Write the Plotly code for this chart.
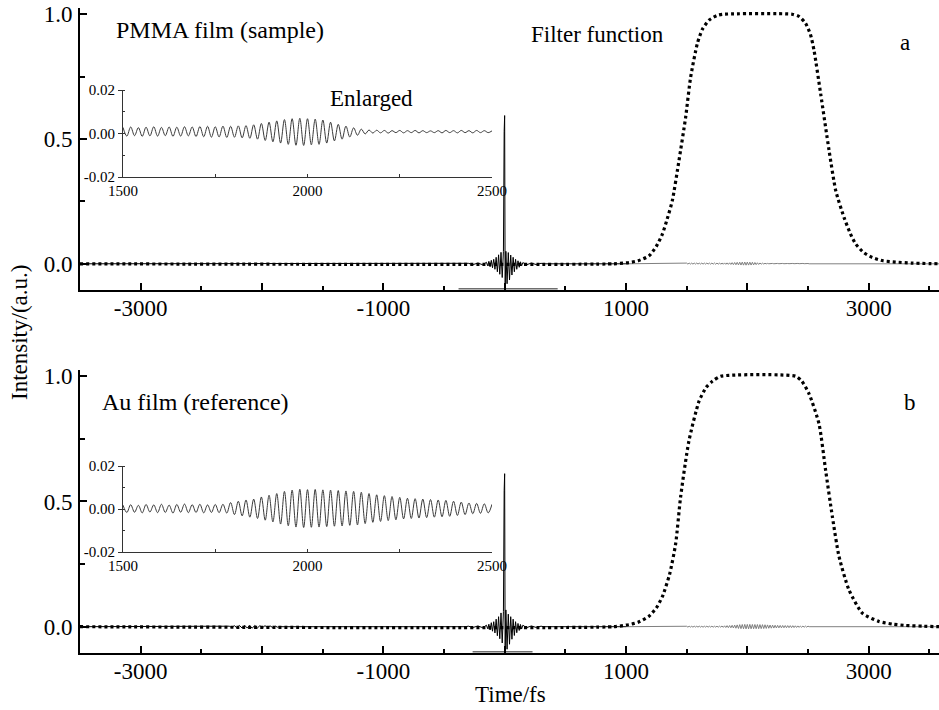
import numpy as np
import plotly.graph_objects as go

# ---------------- data ----------------
filt_a_t = [-3500, 900, 1025, 1100, 1190, 1250, 1300, 1340, 1382, 1437, 1492, 1533, 1588, 1630, 1684, 1750,
            1800, 2370, 2430, 2481, 2520, 2550, 2605, 2674, 2729, 2797, 2850, 2894, 2960, 3031, 3120, 3223,
            3350, 3580]
filt_a_v = [0.0, 0.0, 0.005, 0.012, 0.032, 0.07, 0.119, 0.18, 0.253, 0.414, 0.588, 0.748, 0.882, 0.94, 0.976,
            0.995, 1.0, 1.0, 0.99, 0.963, 0.92, 0.855, 0.68, 0.454, 0.293, 0.186, 0.12, 0.079, 0.045, 0.025,
            0.012, 0.007, 0.003, 0.0]
filt_b_t = [-3500, 900, 1022, 1100, 1187, 1250, 1300, 1360, 1410, 1450, 1519, 1602, 1660, 1712, 1780,
            2399, 2450, 2509, 2591, 2646, 2701, 2756, 2838, 2948, 3085, 3200, 3306, 3450, 3580]
filt_b_v = [0.0, 0.0, 0.008, 0.018, 0.041, 0.075, 0.12, 0.21, 0.333, 0.517, 0.742, 0.9, 0.955, 0.98, 1.0,
            1.0, 0.98, 0.93, 0.81, 0.623, 0.44, 0.28, 0.147, 0.054, 0.021, 0.01, 0.005, 0.002, 0.0]

spike_t = [-300, -260, -220, -180, -150, -140, -130, -120, -110, -100, -90, -80, -70, -60, -50, -40, -30,
           -20, -10, -4, 0, 4, 10, 20, 30, 40, 50, 60, 70, 80, 90, 100, 110, 120, 130, 140, 150, 180, 220,
           260, 300]
spike_a_v = [0.002, -0.003, 0.003, -0.004, 0.006, -0.008, 0.010, -0.012, 0.014, -0.016, 0.018, -0.022,
             0.026, -0.032, 0.036, -0.042, 0.046, -0.055, 0.050, 0.530, 0.594, -0.115, 0.050, -0.080, 0.045,
             -0.065, 0.035, -0.045, 0.026, -0.032, 0.018, -0.022, 0.012, -0.014, 0.008, -0.008, 0.005,
             -0.004, 0.003, -0.003, 0.002]
spike_b_v = [0.002, -0.003, 0.003, -0.004, 0.006, -0.008, 0.010, -0.013, 0.016, -0.018, 0.020, -0.025,
             0.030, -0.036, 0.040, -0.048, 0.055, -0.065, 0.060, 0.544, 0.611, -0.115, 0.067, -0.090, 0.050,
             -0.070, 0.040, -0.050, 0.030, -0.035, 0.020, -0.024, 0.013, -0.015, 0.009, -0.009, 0.006,
             -0.004, 0.003, -0.003, 0.002]

enl_range = [1500, 2500]
pmma_v = [0.0028, -0.0012, 0.0030, -0.0010, 0.0027, -0.0013, 0.0029, -0.0011, 0.0031, -0.0012, 0.0028,
          -0.0010, 0.0030, -0.0013, 0.0029, -0.0012, 0.0031, -0.0011, 0.0030, -0.0014,
          0.0032, -0.0015, 0.0033, -0.0017, 0.0031, -0.0016, 0.0034, -0.0018, 0.0033, -0.0017, 0.0035,
          -0.0020, 0.0036, -0.0022,
          0.0040, -0.0026, 0.0046, -0.0032, 0.0052, -0.0038, 0.0058,
          -0.0044, 0.0064, -0.0050, 0.0068, -0.0054, 0.0070, -0.0055, 0.0068, -0.0052, 0.0066, -0.0050, 0.0062,
          -0.0044, 0.0052, -0.0034, 0.0042, -0.0026, 0.0034,
          -0.0016, 0.0026, -0.0008, 0.0020, -0.0002, 0.0016,
          0.0002, 0.0015, 0.0003, 0.0014, 0.0002, 0.0013, 0.0004, 0.0014, 0.0003, 0.0013, 0.0004, 0.0014,
          0.0003, 0.0013, 0.0004, 0.0012, 0.0004, 0.0013, 0.0003, 0.0014, 0.0004, 0.0013, 0.0003, 0.0014,
          0.0004, 0.0013, 0.0003, 0.0014, 0.0004, 0.0013, 0.0004, 0.0012]
au_v = [0.0018, -0.0016, 0.0020, -0.0015, 0.0017, -0.0018, 0.0021, -0.0014, 0.0019, -0.0017, 0.0022, -0.0016,
        0.0018, -0.0019, 0.0021, -0.0015, 0.0023, -0.0017, 0.0020, -0.0016, 0.0022, -0.0018, 0.0019, -0.0016,
        0.0021, -0.0017, 0.0022, -0.0019,
        0.0030, -0.0026, 0.0036, -0.0032, 0.0042, -0.0038, 0.0046,
        -0.0044, 0.0056, -0.0052, 0.0064, -0.0060, 0.0072,
        -0.0070, 0.0082, -0.0078, 0.0088, -0.0084, 0.0092, -0.0086, 0.0090, -0.0085, 0.0091, -0.0084, 0.0089,
        -0.0082, 0.0088, -0.0080, 0.0086, -0.0079, 0.0084, -0.0076, 0.0082, -0.0074, 0.0078,
        -0.0068, 0.0072, -0.0062, 0.0066, -0.0058, 0.0062, -0.0054, 0.0058, -0.0050, 0.0054,
        -0.0046, 0.0050, -0.0044, 0.0048, -0.0042, 0.0046, -0.0040, 0.0044, -0.0038, 0.0042, -0.0036, 0.0040,
        -0.0034, 0.0036,
        -0.0030, 0.0032, -0.0026, 0.0028, -0.0022, 0.0026, -0.0020, 0.0024, -0.0018, 0.0022]

echo_range = [-2270, -1870]
echo_b_v = [0.002, -0.003, 0.004, -0.004, 0.005, -0.005, 0.006, -0.005, 0.005, -0.006, 0.005, -0.005,
            0.004, -0.004, 0.004, -0.003, 0.003, -0.003, 0.002, -0.002]

win_a_t = [-380, 437]
win_b_t = [-264, 230]
win_level = [-0.1, -0.1]

x_range = [-3500, 3580]
y_range = [-0.105, 1.025]
x_ticks = [-3000, -2000, -1000, 0, 1000, 2000, 3000]
x_ticktext = ["-3000", "", "-1000", "", "1000", "", "3000"]
y_ticks = [0.0, 0.5, 1.0]
y_ticktext = ["0.0", "0.5", "1.0"]
ins_x_ticks = [1500, 2000, 2500]
ins_y_ticks = [-0.02, 0.0, 0.02]
ins_y_ticktext = ["-0.02", "0.00", "0.02"]

# ---------------- figure ----------------
FONT = "Liberation Serif"
W, H = 939, 710
PLOT_L, PLOT_R, PLOT_T, PLOT_B = 80, 939, 8, 653
ML, MR, MT, MB = PLOT_L, W - PLOT_R, PLOT_T, H - PLOT_B
PW, PH = PLOT_R - PLOT_L, PLOT_B - PLOT_T


def px_x(px):
    return (px - PLOT_L) / PW


def px_y(py):
    return (PLOT_B - py) / PH


enl_t = np.linspace(enl_range[0], enl_range[1], len(pmma_v))
echo_t = np.linspace(echo_range[0], echo_range[1], len(echo_b_v))

fig = go.Figure()

panels = [
    ("x", "y", "x3", "y3", spike_a_v, pmma_v, filt_a_t, filt_a_v, win_a_t, None),
    ("x2", "y2", "x4", "y4", spike_b_v, au_v, filt_b_t, filt_b_v, win_b_t, echo_b_v),
]
for xa, ya, xi, yi, spk, enl, ft, fv, wt, echo in panels:
    st = [-3500]
    sv = [0.0]
    if echo is not None:
        st += [echo_range[0] - 10] + list(echo_t) + [echo_range[1] + 10]
        sv += [0.0] + list(echo) + [0.0]
    st += [spike_t[0] - 20] + spike_t + [spike_t[-1] + 20, 1000]
    sv += [0.0] + spk + [0.0, 0.0]
    fig.add_trace(go.Scatter(x=st, y=sv, mode="lines", line=dict(color="black", width=1),
                             xaxis=xa, yaxis=ya, hoverinfo="skip"))
    gt = [1000, enl_range[0] - 10] + list(enl_t) + [enl_range[1] + 10, x_range[1]]
    gv = [0.0, 0.0] + list(enl) + [0.0, 0.0]
    fig.add_trace(go.Scatter(x=gt, y=gv, mode="lines", line=dict(color="#808080", width=1),
                             xaxis=xa, yaxis=ya, hoverinfo="skip"))
    fig.add_trace(go.Scatter(x=wt, y=win_level, mode="lines", line=dict(color="#6e6e6e", width=1.5),
                             xaxis=xa, yaxis=ya, hoverinfo="skip"))
    fig.add_trace(go.Scatter(x=ft, y=fv, mode="lines", line=dict(color="black", width=3.2, dash="3px,3px",
                                                                 shape="spline", smoothing=0.6),
                             xaxis=xa, yaxis=ya, hoverinfo="skip"))
    fig.add_trace(go.Scatter(x=enl_t, y=enl, mode="lines",
                             line=dict(color="#3a3a3a", width=1, shape="spline", smoothing=1.0),
                             xaxis=xi, yaxis=yi, hoverinfo="skip"))

main_x = dict(range=x_range, showline=True, linecolor="black", linewidth=2, showgrid=False, zeroline=False,
              tickvals=x_ticks, ticktext=x_ticktext, ticks="inside", ticklen=7, tickwidth=2,
              tickcolor="black", minor=dict(dtick=500, tick0=-3000, ticks="inside", ticklen=4,
                                            tickwidth=1.5, tickcolor="black", showgrid=False),
              tickfont=dict(family=FONT, size=23, color="black"), ticklabelstandoff=-4, domain=[0, 1],
              automargin=False, ticklabeloverflow="allow")
main_y = dict(range=y_range, showline=True, linecolor="black", linewidth=2, showgrid=False, zeroline=False,
              tickvals=y_ticks, ticktext=y_ticktext, ticks="inside", ticklen=7, tickwidth=2,
              tickcolor="black", minor=dict(dtick=0.25, tick0=0, ticks="inside", ticklen=5,
                                            tickwidth=1.5, tickcolor="black", showgrid=False),
              tickfont=dict(family=FONT, size=23, color="black"), ticklabelstandoff=1, automargin=False,
              ticklabeloverflow="allow")

ins_x = dict(range=enl_range, showline=True, linecolor="#333", linewidth=1, showgrid=False, zeroline=False,
             tickvals=ins_x_ticks, ticks="inside", ticklen=3, tickwidth=1, tickcolor="#333",
             minor=dict(dtick=250, tick0=1500, ticks="inside", ticklen=3, tickwidth=1, tickcolor="#333"),
             tickfont=dict(family=FONT, size=15, color="black"), ticklabelstandoff=0, automargin=False)
ins_y = dict(range=[-0.02, 0.02], showline=True, linecolor="#333", linewidth=1, showgrid=False,
             zeroline=False, tickvals=ins_y_ticks, ticktext=ins_y_ticktext, ticks="outside", ticklen=4,
             tickwidth=1, tickcolor="#333",
             minor=dict(dtick=0.01, tick0=0, ticks="inside", ticklen=2, tickwidth=1, tickcolor="#333"),
             tickfont=dict(family=FONT, size=15, color="black"), ticklabelstandoff=0, automargin=False)

ins_xdom = [px_x(123), px_x(492)]

fig.update_layout(
    width=W, height=H, margin=dict(l=ML, r=MR, t=MT, b=MB, pad=0, autoexpand=False),
    paper_bgcolor="white", plot_bgcolor="rgba(0,0,0,0)", showlegend=False,
    font=dict(family=FONT, color="black"),
    xaxis=dict(main_x, anchor="y"),
    yaxis=dict(main_y, anchor="x", domain=[px_y(290), 1]),
    xaxis2=dict(main_x, anchor="y2"),
    yaxis2=dict(main_y, anchor="x2", domain=[0, px_y(370)]),
    xaxis3=dict(ins_x, anchor="y3", domain=ins_xdom),
    yaxis3=dict(ins_y, anchor="x3", domain=[px_y(177), px_y(90)]),
    xaxis4=dict(ins_x, anchor="y4", domain=ins_xdom),
    yaxis4=dict(ins_y, anchor="x4", domain=[px_y(552), px_y(466)]),
)


def ann(text, px, py, xanchor="center", size=23, angle=0):
    fig.add_annotation(text=text, x=px_x(px), y=px_y(py), xref="paper", yref="paper", showarrow=False,
                       xanchor=xanchor, yanchor="middle", textangle=angle,
                       font=dict(family=FONT, size=size, color="black"))


ann("PMMA film (sample)", 114, 30, xanchor="left", size=24)
ann("Filter function", 597, 34)
ann("a", 905, 42)
ann("Enlarged", 371, 99)
ann("Au film (reference)", 100, 402, xanchor="left", size=24)
ann("b", 910, 402)
ann("Intensity/(a.u.)", 19, 333, angle=-90)
ann("Time/fs", 510, 694)

fig.write_html("out.html", config={"displayModeBar": False},
               post_script="document.body.style.margin='0px';")
